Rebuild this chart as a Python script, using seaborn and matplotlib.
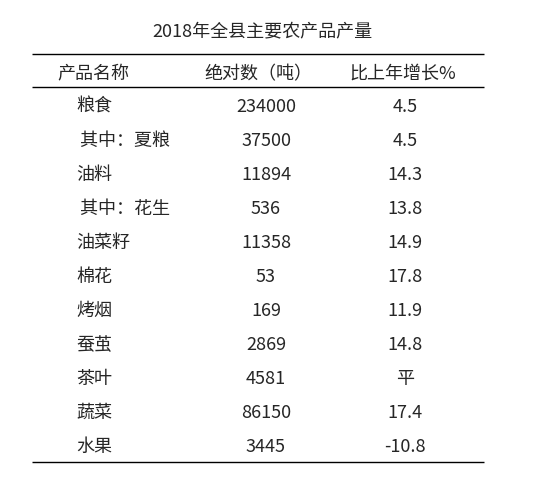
import matplotlib
matplotlib.use("Agg")
import matplotlib.pyplot as plt
import seaborn as sns

sns.set_theme(style="white")
plt.rcParams['font.family'] = ['Noto Sans CJK SC', 'DejaVu Sans']

title = "2018年全县主要农产品产量"
headers = ["产品名称", "绝对数（吨）", "比上年增长%"]
names = ["粮食", " 其中：夏粮", "油料", " 其中：花生", "油菜籽", "棉花", "烤烟", "蚕茧", "茶叶", "蔬菜", "水果"]
amounts = ["234000", "37500", "11894", "536", "11358", "53", "169", "2869", "4581", "86150", "3445"]
growth = ["4.5", "4.5", "14.3", "13.8", "14.9", "17.8", "11.9", "14.8", "平", "17.4", "-10.8"]

fig = plt.figure(figsize=(5.57, 4.91), dpi=100)
ax = fig.add_axes([0, 0, 1, 1])
ax.set_xlim(0, 557)
ax.set_ylim(491, 0)
ax.axis("off")

fs = 13
ax.text(262, 31, title, ha="center", va="center", fontsize=fs)
for y in (54, 87, 462):
    ax.hlines(y, 32, 484, color="black", lw=1)
hx = [93, 258, 403]
for x, h in zip(hx, headers):
    ax.text(x, 74, h, ha="center", va="center", fontsize=fs)
for i, (n, a, g) in enumerate(zip(names, amounts, growth)):
    y = 107 + 34 * i
    ax.text(76, y, n, ha="left", va="center", fontsize=fs)
    ax.text(266, y, a, ha="center", va="center", fontsize=fs)
    ax.text(405, y, g, ha="center", va="center", fontsize=fs)

fig.savefig("out.png", dpi=100, facecolor="white")
